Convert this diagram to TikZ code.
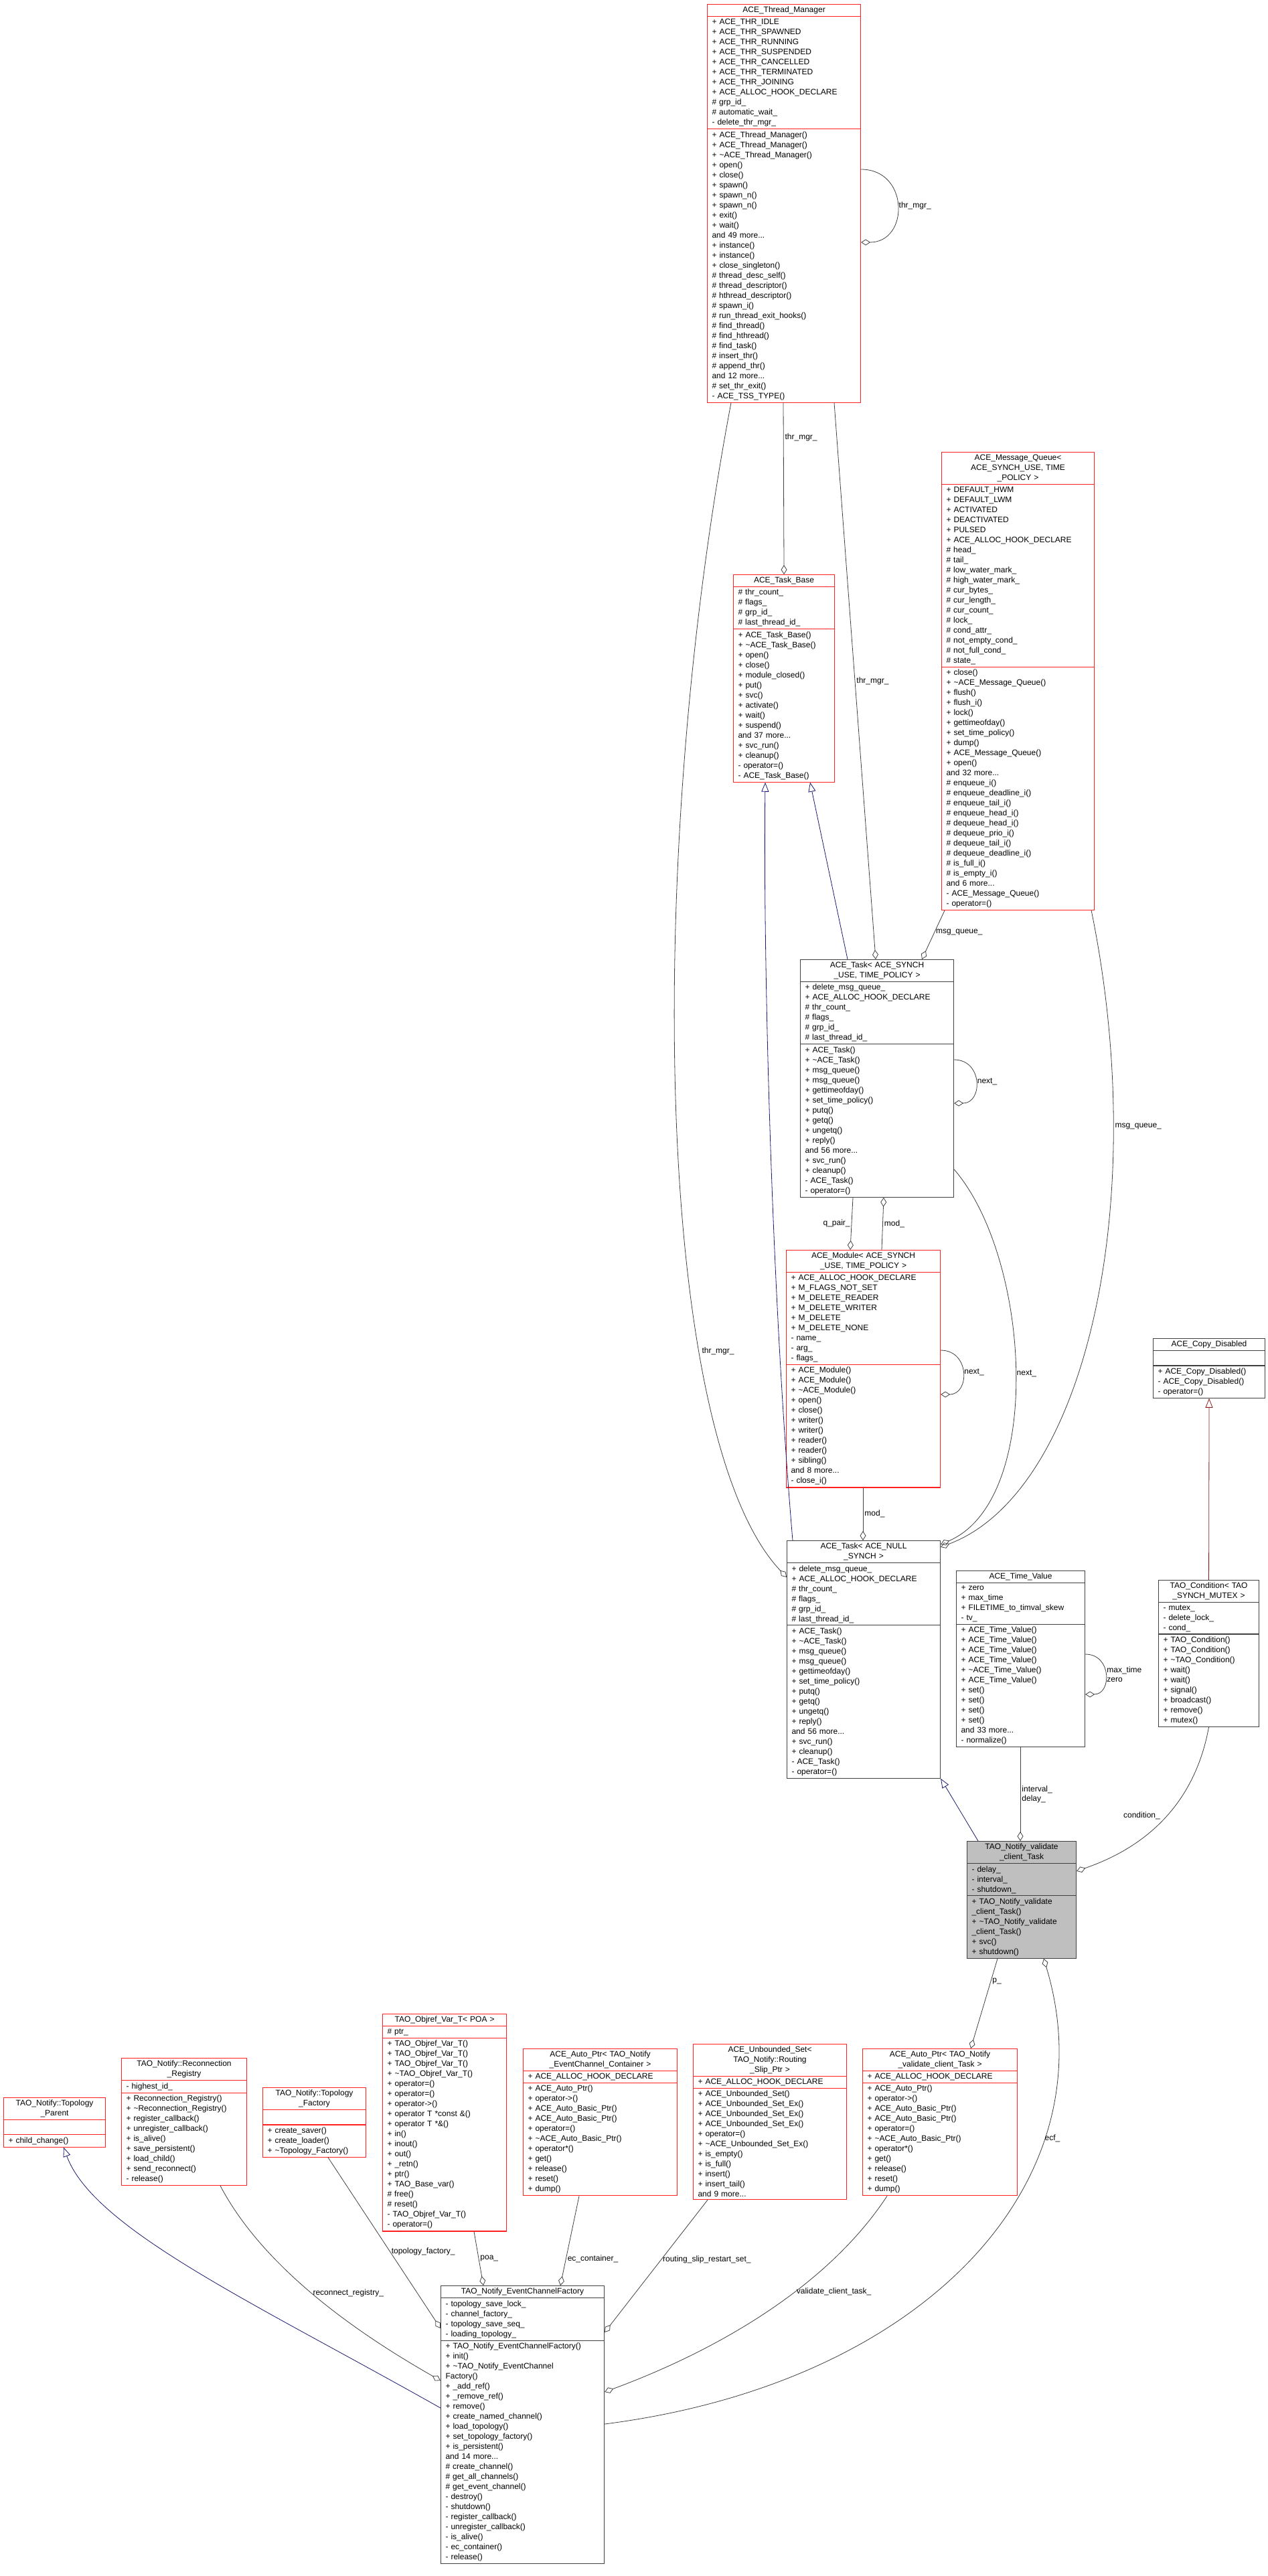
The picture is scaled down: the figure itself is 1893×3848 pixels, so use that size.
\documentclass[tikz,border=0pt]{standalone}
\usepackage{fontspec}
\setmainfont{Liberation Sans}
\usetikzlibrary{shapes.multipart,arrows.meta}
\definecolor{edgegray}{HTML}{404040}
\definecolor{midblue}{HTML}{191970}
\definecolor{firebrick}{HTML}{8B1A1A}
\definecolor{boxred}{HTML}{FF2020}
\newcommand{\ttl}[1]{{\centering #1\par}}

\begin{document}
\begin{tikzpicture}[
    x=1pt, y=-1pt,
    cls/.style={rectangle split, rectangle split parts=3, draw=edgegray, fill=white,
      line width=1.1pt, anchor=north west, align=left, inner xsep=7pt, inner ysep=3pt,
      font=\fontsize{12}{15}\selectfont},
    redcls/.style={cls, draw=boxred},
    agg/.style={draw=edgegray, line width=0.8pt, -{Diamond[open,length=14pt,width=9pt]}},
    inh/.style={draw=midblue, line width=0.8pt, -{Triangle[open,length=14pt,width=11pt]}},
    lbl/.style={font=\fontsize{12}{14}\selectfont, inner sep=2pt, align=left}]

    \useasboundingbox (0,0) rectangle (1893,3848);

    % classes of the ACE part
    \node[redcls, text width=215pt] (tm) at (1056,6) {\ttl{ACE\_Thread\_Manager}
      \nodepart{two} + ACE\_THR\_IDLE\\ + ACE\_THR\_SPAWNED\\ + ACE\_THR\_RUNNING\\ + ACE\_THR\_SUSPENDED\\
      + ACE\_THR\_CANCELLED\\ + ACE\_THR\_TERMINATED\\ + ACE\_THR\_JOINING\\ + ACE\_ALLOC\_HOOK\_DECLARE\\
      \# grp\_id\_\\ \# automatic\_wait\_\\ - delete\_thr\_mgr\_
      \nodepart{three} + ACE\_Thread\_Manager()\\ + ACE\_Thread\_Manager()\\ + \textasciitilde ACE\_Thread\_Manager()\\
      + open()\\ + close()\\ + spawn()\\ + spawn\_n()\\ + spawn\_n()\\ + exit()\\ + wait()\\ and 49 more...\\
      + instance()\\ + instance()\\ + close\_singleton()\\ \# thread\_desc\_self()\\ \# thread\_descriptor()\\
      \# hthread\_descriptor()\\ \# spawn\_i()\\ \# run\_thread\_exit\_hooks()\\ \# find\_thread()\\
      \# find\_hthread()\\ \# find\_task()\\ \# insert\_thr()\\ \# append\_thr()\\ and 12 more...\\
      \# set\_thr\_exit()\\ - ACE\_TSS\_TYPE()};
    \node[redcls, text width=137pt] (tb) at (1095,858) {\ttl{ACE\_Task\_Base}
      \nodepart{two} \# thr\_count\_\\ \# flags\_\\ \# grp\_id\_\\ \# last\_thread\_id\_
      \nodepart{three} + ACE\_Task\_Base()\\ + \textasciitilde ACE\_Task\_Base()\\ + open()\\ + close()\\
      + module\_closed()\\ + put()\\ + svc()\\ + activate()\\ + wait()\\ + suspend()\\ and 37 more...\\
      + svc\_run()\\ + cleanup()\\ - operator=()\\ - ACE\_Task\_Base()};
    \node[redcls, text width=214pt] (mq) at (1406,675) {\ttl{ACE\_Message\_Queue<\\ ACE\_SYNCH\_USE, TIME\\ \_POLICY >}
      \nodepart{two} + DEFAULT\_HWM\\ + DEFAULT\_LWM\\ + ACTIVATED\\ + DEACTIVATED\\ + PULSED\\
      + ACE\_ALLOC\_HOOK\_DECLARE\\ \# head\_\\ \# tail\_\\ \# low\_water\_mark\_\\ \# high\_water\_mark\_\\
      \# cur\_bytes\_\\ \# cur\_length\_\\ \# cur\_count\_\\ \# lock\_\\ \# cond\_attr\_\\
      \# not\_empty\_cond\_\\ \# not\_full\_cond\_\\ \# state\_
      \nodepart{three} + close()\\ + \textasciitilde ACE\_Message\_Queue()\\ + flush()\\ + flush\_i()\\ + lock()\\
      + gettimeofday()\\ + set\_time\_policy()\\ + dump()\\ + ACE\_Message\_Queue()\\ + open()\\ and 32 more...\\
      \# enqueue\_i()\\ \# enqueue\_deadline\_i()\\ \# enqueue\_tail\_i()\\ \# enqueue\_head\_i()\\
      \# dequeue\_head\_i()\\ \# dequeue\_prio\_i()\\ \# dequeue\_tail\_i()\\ \# dequeue\_deadline\_i()\\
      \# is\_full\_i()\\ \# is\_empty\_i()\\ and 6 more...\\ - ACE\_Message\_Queue()\\ - operator=()};
    \node[cls, text width=215pt] (ts) at (1195,1433) {\ttl{ACE\_Task< ACE\_SYNCH\\ \_USE, TIME\_POLICY >}
      \nodepart{two} + delete\_msg\_queue\_\\ + ACE\_ALLOC\_HOOK\_DECLARE\\ \# thr\_count\_\\ \# flags\_\\
      \# grp\_id\_\\ \# last\_thread\_id\_
      \nodepart{three} + ACE\_Task()\\ + \textasciitilde ACE\_Task()\\ + msg\_queue()\\ + msg\_queue()\\
      + gettimeofday()\\ + set\_time\_policy()\\ + putq()\\ + getq()\\ + ungetq()\\ + reply()\\
      and 56 more...\\ + svc\_run()\\ + cleanup()\\ - ACE\_Task()\\ - operator=()};
    \node[redcls, text width=216pt] (mod) at (1174,1867) {\ttl{ACE\_Module< ACE\_SYNCH\\ \_USE, TIME\_POLICY >}
      \nodepart{two} + ACE\_ALLOC\_HOOK\_DECLARE\\ + M\_FLAGS\_NOT\_SET\\ + M\_DELETE\_READER\\
      + M\_DELETE\_WRITER\\ + M\_DELETE\\ + M\_DELETE\_NONE\\ - name\_\\ - arg\_\\ - flags\_
      \nodepart{three} + ACE\_Module()\\ + ACE\_Module()\\ + \textasciitilde ACE\_Module()\\ + open()\\
      + close()\\ + writer()\\ + writer()\\ + reader()\\ + reader()\\ + sibling()\\ and 8 more...\\ - close\_i()};
    \node[cls, text width=215pt] (tn) at (1175,2301) {\ttl{ACE\_Task< ACE\_NULL\\ \_SYNCH >}
      \nodepart{two} + delete\_msg\_queue\_\\ + ACE\_ALLOC\_HOOK\_DECLARE\\ \# thr\_count\_\\ \# flags\_\\
      \# grp\_id\_\\ \# last\_thread\_id\_
      \nodepart{three} + ACE\_Task()\\ + \textasciitilde ACE\_Task()\\ + msg\_queue()\\ + msg\_queue()\\
      + gettimeofday()\\ + set\_time\_policy()\\ + putq()\\ + getq()\\ + ungetq()\\ + reply()\\
      and 56 more...\\ + svc\_run()\\ + cleanup()\\ - ACE\_Task()\\ - operator=()};
    \node[cls, text width=178pt] (tv) at (1428,2346) {\ttl{ACE\_Time\_Value}
      \nodepart{two} + zero\\ + max\_time\\ + FILETIME\_to\_timval\_skew\\ - tv\_
      \nodepart{three} + ACE\_Time\_Value()\\ + ACE\_Time\_Value()\\ + ACE\_Time\_Value()\\ + ACE\_Time\_Value()\\
      + \textasciitilde ACE\_Time\_Value()\\ + ACE\_Time\_Value()\\ + set()\\ + set()\\ + set()\\ + set()\\
      and 33 more...\\ - normalize()};
    \node[cls, text width=153pt] (cd) at (1722,1999) {\ttl{ACE\_Copy\_Disabled}
      \nodepart{two} \strut
      \nodepart{three} + ACE\_Copy\_Disabled()\\ - ACE\_Copy\_Disabled()\\ - operator=()};
    \node[cls, text width=136pt] (cond) at (1730,2360) {\ttl{TAO\_Condition< TAO\\ \_SYNCH\_MUTEX >}
      \nodepart{two} - mutex\_\\ - delete\_lock\_\\ - cond\_
      \nodepart{three} + TAO\_Condition()\\ + TAO\_Condition()\\ + \textasciitilde TAO\_Condition()\\
      + wait()\\ + wait()\\ + signal()\\ + broadcast()\\ + remove()\\ + mutex()};
    \node[cls, text width=149pt, fill=gray!50] (val) at (1444,2750) {\ttl{TAO\_Notify\_validate\\ \_client\_Task}
      \nodepart{two} - delay\_\\ - interval\_\\ - shutdown\_
      \nodepart{three} + TAO\_Notify\_validate\\ \_client\_Task()\\ + \textasciitilde TAO\_Notify\_validate\\
      \_client\_Task()\\ + svc()\\ + shutdown()};

    % classes of the TAO part
    \node[redcls, text width=138pt] (tp) at (5,3133) {\ttl{TAO\_Notify::Topology\\ \_Parent}
      \nodepart{two} \strut
      \nodepart{three} + child\_change()};
    \node[redcls, text width=173pt] (rr) at (181,3074) {\ttl{TAO\_Notify::Reconnection\\ \_Registry}
      \nodepart{two} - highest\_id\_
      \nodepart{three} + Reconnection\_Registry()\\ + \textasciitilde Reconnection\_Registry()\\
      + register\_callback()\\ + unregister\_callback()\\ + is\_alive()\\ + save\_persistent()\\
      + load\_child()\\ + send\_reconnect()\\ - release()};
    \node[redcls, text width=140pt] (tf) at (392,3118) {\ttl{TAO\_Notify::Topology\\ \_Factory}
      \nodepart{two} \strut
      \nodepart{three} + create\_saver()\\ + create\_loader()\\ + \textasciitilde Topology\_Factory()};
    \node[redcls, text width=171pt] (ov) at (571,3008) {\ttl{TAO\_Objref\_Var\_T< POA >}
      \nodepart{two} \# ptr\_
      \nodepart{three} + TAO\_Objref\_Var\_T()\\ + TAO\_Objref\_Var\_T()\\ + TAO\_Objref\_Var\_T()\\
      + \textasciitilde TAO\_Objref\_Var\_T()\\ + operator=()\\ + operator=()\\ + operator->()\\
      + operator T *const \&()\\ + operator T *\&()\\ + in()\\ + inout()\\ + out()\\ + \_retn()\\ + ptr()\\
      + TAO\_Base\_var()\\ \# free()\\ \# reset()\\ - TAO\_Objref\_Var\_T()\\ - operator=()};
    \node[redcls, text width=216pt] (apec) at (781,3060) {\ttl{ACE\_Auto\_Ptr< TAO\_Notify\\ \_EventChannel\_Container >}
      \nodepart{two} + ACE\_ALLOC\_HOOK\_DECLARE
      \nodepart{three} + ACE\_Auto\_Ptr()\\ + operator->()\\ + ACE\_Auto\_Basic\_Ptr()\\ + ACE\_Auto\_Basic\_Ptr()\\
      + operator=()\\ + \textasciitilde ACE\_Auto\_Basic\_Ptr()\\ + operator*()\\ + get()\\ + release()\\
      + reset()\\ + dump()};
    \node[redcls, text width=215pt] (us) at (1035,3053) {\ttl{ACE\_Unbounded\_Set<\\ TAO\_Notify::Routing\\ \_Slip\_Ptr >}
      \nodepart{two} + ACE\_ALLOC\_HOOK\_DECLARE
      \nodepart{three} + ACE\_Unbounded\_Set()\\ + ACE\_Unbounded\_Set\_Ex()\\ + ACE\_Unbounded\_Set\_Ex()\\
      + ACE\_Unbounded\_Set\_Ex()\\ + operator=()\\ + \textasciitilde ACE\_Unbounded\_Set\_Ex()\\ + is\_empty()\\
      + is\_full()\\ + insert()\\ + insert\_tail()\\ and 9 more...};
    \node[redcls, text width=217pt] (apv) at (1288,3060) {\ttl{ACE\_Auto\_Ptr< TAO\_Notify\\ \_validate\_client\_Task >}
      \nodepart{two} + ACE\_ALLOC\_HOOK\_DECLARE
      \nodepart{three} + ACE\_Auto\_Ptr()\\ + operator->()\\ + ACE\_Auto\_Basic\_Ptr()\\ + ACE\_Auto\_Basic\_Ptr()\\
      + operator=()\\ + \textasciitilde ACE\_Auto\_Basic\_Ptr()\\ + operator*()\\ + get()\\ + release()\\
      + reset()\\ + dump()};
    \node[cls, text width=230pt] (ecf) at (658,3414) {\ttl{TAO\_Notify\_EventChannelFactory}
      \nodepart{two} - topology\_save\_lock\_\\ - channel\_factory\_\\ - topology\_save\_seq\_\\ - loading\_topology\_
      \nodepart{three} + TAO\_Notify\_EventChannelFactory()\\ + init()\\ + \textasciitilde TAO\_Notify\_EventChannel\\
      Factory()\\ + \_add\_ref()\\ + \_remove\_ref()\\ + remove()\\ + create\_named\_channel()\\ + load\_topology()\\
      + set\_topology\_factory()\\ + is\_persistent()\\ and 14 more...\\ \# create\_channel()\\
      \# get\_all\_channels()\\ \# get\_event\_channel()\\ - destroy()\\ - shutdown()\\ - register\_callback()\\
      - unregister\_callback()\\ - is\_alive()\\ - ec\_container()\\ - release()};

    % members around the thread manager and the tasks
    \draw[agg] ([yshift=-247pt]tm.north east) to[out=0,in=0,looseness=1.7]
        node[lbl,right]{thr\_mgr\_} ([yshift=-356pt]tm.north east);
    \draw[agg] ([xshift=114pt]tm.south west) -- node[lbl,right,pos=0.2]{thr\_mgr\_} (tb.north);
    \draw[agg] ([xshift=190pt]tm.south west) -- node[lbl,right,pos=0.5]{thr\_mgr\_} ([xshift=113pt]ts.north west);
    \draw[agg] ([xshift=36pt]tm.south west) .. controls (960,1300) and (980,2150) ..
        node[lbl,right,pos=0.7]{thr\_mgr\_} ([yshift=-55pt]tn.north west);
    \draw[agg] ([xshift=5pt]mq.south west) -- node[lbl,right,pos=0.45]{msg\_queue\_} ([xshift=182pt]ts.north west);
    \draw[agg] ([xshift=-5pt]mq.south east) .. controls (1720,1800) and (1620,2230) ..
        node[lbl,right,pos=0.25]{msg\_queue\_} ([yshift=-10pt]tn.north east);
    \draw[agg] ([yshift=-150pt]ts.north east) to[out=0,in=0,looseness=1.7]
        node[lbl,right]{next\_} ([yshift=-215pt]ts.north east);
    \draw[agg] ([yshift=42pt]ts.south east) .. controls (1540,1880) and (1560,2240) ..
        node[lbl,right,pos=0.5]{next\_} ([yshift=-6pt]tn.north east);
    \draw[agg] ([xshift=79pt]ts.south west) -- node[lbl,left]{q\_pair\_} ([xshift=96pt]mod.north west);
    \draw[agg] ([xshift=143pt]mod.north west) -- node[lbl,right]{mod\_} ([xshift=125pt]ts.south west);
    \draw[agg] ([yshift=-150pt]mod.north east) to[out=0,in=0,looseness=1.7]
        node[lbl,right]{next\_} ([yshift=-216pt]mod.north east);
    \draw[agg] ([xshift=115pt]mod.south west) -- node[lbl,right]{mod\_} ([xshift=114pt]tn.north west);
    \draw[inh] ([xshift=71pt]ts.north west) -- ([xshift=115pt]tb.south west);
    \draw[inh] ([xshift=9pt]tn.north west) .. controls (1150,1900) and (1140,1400) .. ([xshift=48pt]tb.south west);

    % members of the validating task
    \draw[agg] ([yshift=-125pt]tv.north east) to[out=0,in=0,looseness=1.7]
        node[lbl,right]{max\_time\\zero} ([yshift=-185pt]tv.north east);
    \draw[agg] ([xshift=96pt]tv.south west) -- node[lbl,right]{interval\_\\ delay\_} ([xshift=80pt]val.north west);
    \draw[inh] ([xshift=17pt]val.north west) -- (tn.south east);
    \draw[draw=firebrick, line width=0.8pt, -{Triangle[open,length=14pt,width=11pt]}] (cond.north) -- (cd.south);
    \draw[agg] (cond.south) .. controls (1780,2720) and (1680,2770) ..
        node[lbl,above left,pos=0.45]{condition\_} ([yshift=-45pt]val.north east);
    \draw[agg] ([xshift=46pt]val.south west) -- node[lbl,right,pos=0.25]{p\_} ([xshift=162pt]apv.north west);
    \draw[agg] ([yshift=-207pt]ecf.north east) .. controls (1380,3560) and (1660,3260) ..
        node[lbl,right,pos=0.72]{ecf\_} ([xshift=115pt]val.south west);

    % members of the event channel factory
    \draw[agg] ([xshift=37pt]apv.south west) .. controls (1220,3440) and (1020,3530) ..
        node[lbl,right,pos=0.35]{validate\_client\_task\_} ([yshift=-159pt]ecf.north east);
    \draw[agg] ([xshift=22pt]us.south west) -- node[lbl,right,pos=0.45]{routing\_slip\_restart\_set\_} ([yshift=-70pt]ecf.north east);
    \draw[agg] ([xshift=84pt]apec.south west) -- node[lbl,right,pos=0.7]{ec\_container\_} ([xshift=179pt]ecf.north west);
    \draw[agg] ([xshift=137pt]ov.south west) -- node[lbl,right]{poa\_} ([xshift=64pt]ecf.north west);
    \draw[agg] ([xshift=98pt]tf.south west) -- node[lbl,right,pos=0.55]{topology\_factory\_} ([yshift=-64pt]ecf.north west);
    \draw[agg] ([xshift=148pt]rr.south west) .. controls (400,3400) and (560,3500) ..
        node[lbl,right,pos=0.45]{reconnect\_registry\_} ([yshift=-142pt]ecf.north west);
    \draw[inh] ([yshift=-183pt]ecf.north west) .. controls (380,3440) and (140,3330) .. ([xshift=90pt]tp.south west);
\end{tikzpicture}
\end{document}
